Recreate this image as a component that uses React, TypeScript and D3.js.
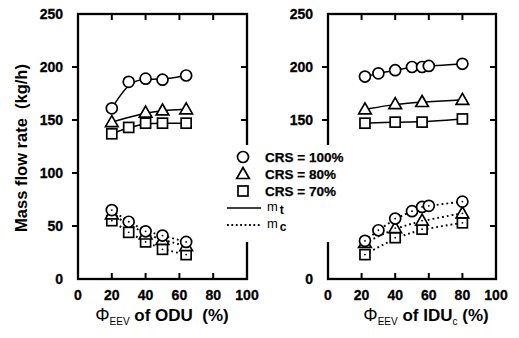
import React from 'react';
import * as d3 from 'd3';

// left panel (ODU)
const oduX = [20, 30, 40, 50, 64];
const oduTriX = [20, 40, 50, 64];
const oduMt100 = [161, 186, 189, 188, 192];
const oduMt80 = [148, 157, 159, 160];
const oduMt70 = [137, 143, 147, 147, 147];
const oduMc100 = [65, 54, 45, 41, 35];
const oduMc80 = [61, 42, 37, 31];
const oduMc70 = [55, 44, 35, 28, 23];

// right panel (IDU)
const iduX = [22, 30, 40, 50, 56, 60, 80];
const iduSubX = [22, 40, 56, 80];
const iduMt100 = [191, 194, 197, 200, 200, 201, 203];
const iduMt80 = [160, 165, 167, 169];
const iduMt70 = [147, 148, 148, 151];
const iduMc100 = [36, 46, 57, 64, 68, 69, 73];
const iduMc80 = [34, 48, 55, 62];
const iduMc70 = [23, 39, 47, 53];

const xTicks = [0, 20, 40, 60, 80, 100];
const yTicks = [0, 50, 100, 150, 200, 250];
const yTicksRight = [0, 150, 200, 250]; // 50 and 100 sit under the legend
const legendLabels = ['CRS = 100%', 'CRS = 80%', 'CRS = 70%'];

const W = 519, H = 338;
const top = 14, bottom = 279;
const font = '"Liberation Sans", Arial, sans-serif';

type Series = { xs: number[]; ys: number[]; shape: string; dotted: boolean };

function Marker({ shape, x, y, dot }: { shape: string; x: number; y: number; dot: boolean }) {
  const s = 1.7;
  let m;
  if (shape === 'circle') m = <circle cx={x} cy={y} r={5.5} fill="white" stroke="black" strokeWidth={s} />;
  else if (shape === 'triangle') m = <path d={`M${x},${y - 6.5} L${x + 6.3},${y + 4.5} L${x - 6.3},${y + 4.5} Z`} fill="white" stroke="black" strokeWidth={s} />;
  else m = <rect x={x - 5} y={y - 5} width={10} height={10} fill="white" stroke="black" strokeWidth={s} />;
  return (
    <g>
      {m}
      {dot && <circle cx={x} cy={y} r={0.9} fill="black" />}
    </g>
  );
}

function Panel({ x0, x1, series, labels }: { x0: number; x1: number; series: Series[]; labels: number[] }) {
  const x = d3.scaleLinear().domain([0, 100]).range([x0, x1]);
  const y = d3.scaleLinear().domain([0, 250]).range([bottom, top]);
  const line = d3.line<[number, number]>().x((d) => x(d[0])).y((d) => y(d[1])).curve(d3.curveBasis);
  return (
    <g>
      {series.map((s, i) => (
        <path key={'l' + i} d={line(s.xs.map((v, j) => [v, s.ys[j]])) || ''} fill="none" stroke="black"
          strokeWidth={s.dotted ? 1.9 : 1.5} strokeDasharray={s.dotted ? '1.8,3' : undefined} />
      ))}
      {series.map((s, i) => s.xs.map((v, j) => (
        <Marker key={'m' + i + '-' + j} shape={s.shape} x={x(v)} y={y(s.ys[j])} dot={s.dotted} />
      )))}
      <rect x={x0} y={top} width={x1 - x0} height={bottom - top} fill="none" stroke="black" strokeWidth={2.3} />
      {xTicks.slice(1, -1).map((t) => (
        <g key={'xt' + t}>
          <line x1={x(t)} x2={x(t)} y1={bottom} y2={bottom - 6} stroke="black" strokeWidth={2} />
          <line x1={x(t)} x2={x(t)} y1={top} y2={top + 6} stroke="black" strokeWidth={2} />
        </g>
      ))}
      {xTicks.map((t) => (
        <text key={'xl' + t} x={x(t)} y={300} textAnchor="middle" fontSize={14} fontWeight="bold" fontFamily={font}
          stroke="black" strokeWidth={0.3}>{t}</text>
      ))}
      {yTicks.slice(1, -1).map((t) => (
        <g key={'yt' + t}>
          <line x1={x0} x2={x0 - 6} y1={y(t)} y2={y(t)} stroke="black" strokeWidth={2} />
          <line x1={x1} x2={x1 - 6} y1={y(t)} y2={y(t)} stroke="black" strokeWidth={2} />
        </g>
      ))}
      {labels.map((t) => (
        <text key={'yl' + t} x={x0 - 15} y={y(t) + 5} textAnchor="end" fontSize={14} fontWeight="bold" fontFamily={font}
          stroke="black" strokeWidth={0.3}>{t}</text>
      ))}
    </g>
  );
}

export default function App() {
  const leftSeries: Series[] = [
    { xs: oduX, ys: oduMt100, shape: 'circle', dotted: false },
    { xs: oduTriX, ys: oduMt80, shape: 'triangle', dotted: false },
    { xs: oduX, ys: oduMt70, shape: 'square', dotted: false },
    { xs: oduX, ys: oduMc70, shape: 'square', dotted: true },
    { xs: oduTriX, ys: oduMc80, shape: 'triangle', dotted: true },
    { xs: oduX, ys: oduMc100, shape: 'circle', dotted: true },
  ];
  const rightSeries: Series[] = [
    { xs: iduX, ys: iduMt100, shape: 'circle', dotted: false },
    { xs: iduSubX, ys: iduMt80, shape: 'triangle', dotted: false },
    { xs: iduSubX, ys: iduMt70, shape: 'square', dotted: false },
    { xs: iduSubX, ys: iduMc70, shape: 'square', dotted: true },
    { xs: iduSubX, ys: iduMc80, shape: 'triangle', dotted: true },
    { xs: iduX, ys: iduMc100, shape: 'circle', dotted: true },
  ];
  const shapes = ['circle', 'triangle', 'square'];
  const rowY = d3.range(5).map((i) => 157 + i * 17);
  return (
    <svg width={W} height={H} style={{ position: 'absolute', left: 0, top: 0, background: 'white' }}>
      <Panel x0={78} x1={247} series={leftSeries} labels={yTicks} />
      <Panel x0={328} x1={496} series={rightSeries} labels={yTicksRight} />

      {/* legend covers the inner borders */}
      <rect x={222} y={145} width={128} height={97} fill="white" />
      {shapes.map((s, i) => (
        <g key={s}>
          <Marker shape={s} x={243} y={rowY[i]} dot={false} />
          <text x={265} y={rowY[i] + 4.5} fontSize={13.5} fontWeight="bold" fontFamily={font}
            stroke="black" strokeWidth={0.25}>{legendLabels[i]}</text>
        </g>
      ))}
      <line x1={227} x2={261} y1={rowY[3]} y2={rowY[3]} stroke="black" strokeWidth={1.6} />
      <line x1={227} x2={261} y1={rowY[4]} y2={rowY[4]} stroke="black" strokeWidth={1.9} strokeDasharray="1.8,2.6" />
      <text x={267} y={rowY[3] + 3} fontSize={13} fontFamily={font}>m<tspan fontSize={12} fontWeight="bold" dy={3} dx={2}>t</tspan></text>
      <text x={267} y={rowY[4] + 3} fontSize={13} fontFamily={font}>m<tspan fontSize={12} fontWeight="bold" dy={3} dx={2}>c</tspan></text>

      {/* axis titles */}
      <text transform="translate(27,148) rotate(-90)" textAnchor="middle" fontSize={16.5} fontWeight="bold" fontFamily={font}
        style={{ whiteSpace: 'pre' }}>Mass flow rate  (kg/h)</text>
      <text x={162} y={321} textAnchor="middle" fontSize={17} fontFamily={font} style={{ whiteSpace: 'pre' }}>
        <tspan fontSize={18}>Φ</tspan>
        <tspan fontSize={10} dy={4}>EEV</tspan>
        <tspan dy={-4} fontWeight="bold"> of ODU  (%)</tspan>
      </text>
      <text x={426} y={321} textAnchor="middle" fontSize={17} fontFamily={font} style={{ whiteSpace: 'pre' }}>
        <tspan fontSize={18}>Φ</tspan>
        <tspan fontSize={10} dy={4}>EEV</tspan>
        <tspan dy={-4} fontWeight="bold"> of IDU</tspan>
        <tspan fontSize={10} dy={4}>c</tspan>
        <tspan dy={-4} fontWeight="bold"> (%)</tspan>
      </text>
    </svg>
  );
}
